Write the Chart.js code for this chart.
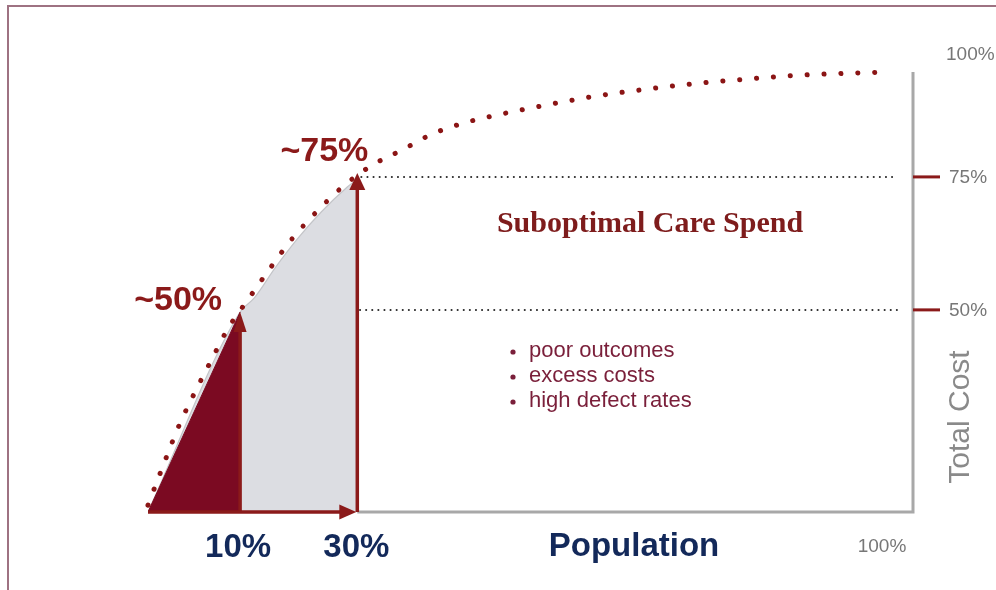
<!DOCTYPE html>
<html>
<head>
<meta charset="utf-8">
<script src="https://cdn.jsdelivr.net/npm/chart.js@4"></script>
<style>
  html, body { margin: 0; padding: 0; background: #ffffff; }
  #wrap { width: 996px; height: 590px; position: relative; }
  canvas { display: block; }
</style>
</head>
<body>
<div id="wrap"><canvas id="c" width="996" height="590"></canvas></div>
<script>
// ---- Data (population share on x, cumulative cost share on y; illustrative, not to scale) ----
const curveX = [0, 1.6, 4.1, 6.2, 8.3, 10.5, 13.2, 16.0, 18.8, 22.0, 25.4, 29.3, 33.4, 36.9, 41.2, 45.5, 49.9, 54.2, 58.6, 65.2, 71.9, 78.4, 84.9, 91.6, 96.2];
const curveY = [13.3, 19.3, 28.4, 34.7, 40.6, 46.6, 52.2, 57.9, 63.3, 68.4, 73.1, 77.2, 80.2, 82.9, 85.1, 86.6, 87.9, 89.1, 90.2, 91.5, 92.6, 93.4, 94.1, 94.5, 94.7];

const grayX = [0, 12.04, 13.87, 16.62, 19.5, 22.64, 26.05, 27.36];
const grayY = [12, 49.6, 52.2, 57.9, 63.3, 68.4, 73.1, 74.6];

const triX = [0, 12.04];
const triY = [12, 49.6];

const markerX = [12.04, 27.36];          // positions of the 10% / 30% population markers
const markerLabels = ['10%', '30%'];
const levelY = [50, 75];                  // cost levels reached
const levelLabels = ['~50%', '~75%'];
const axisTickLabels = ['50%', '75%'];
const axisEndLabel = '100%';
const xTitle = 'Population';
const yTitle = 'Total Cost';
const noteTitle = 'Suboptimal Care Spend';
const bullets = ['poor outcomes', 'excess costs', 'high defect rates'];

const X_MIN = 0, X_MAX = 100, Y_MIN = 12, Y_MAX = 95.1;
const REF_END = 97.9;

const toPts = (xs, ys) => xs.map((x, i) => ({ x: x, y: ys[i] }));

const SANS = '"Liberation Sans", Arial, Helvetica, sans-serif';
const SERIF = '"Liberation Serif", "Times New Roman", serif';
const RED = '#8b1a1a';

function arrowHead(ctx, x, y, dir, len, w) {
  ctx.beginPath();
  if (dir === 'up') {
    ctx.moveTo(x, y); ctx.lineTo(x - w / 2, y + len); ctx.lineTo(x + w / 2, y + len);
  } else {
    ctx.moveTo(x, y); ctx.lineTo(x - len, y - w / 2); ctx.lineTo(x - len, y + w / 2);
  }
  ctx.closePath();
  ctx.fill();
}

const decor = {
  id: 'decor',
  beforeDraw(chart) {
    const ctx = chart.ctx;
    ctx.save();
    ctx.fillStyle = '#ffffff';
    ctx.fillRect(0, 0, chart.width, chart.height);
    ctx.strokeStyle = '#9e7282';
    ctx.lineWidth = 2;
    ctx.beginPath();
    ctx.moveTo(8, chart.height);
    ctx.lineTo(8, 6);
    ctx.lineTo(chart.width, 6);
    ctx.stroke();
    ctx.restore();
  },
  beforeDatasetsDraw(chart) {
    const ctx = chart.ctx, xs = chart.scales.x, ys = chart.scales.y;
    const ca = chart.chartArea;
    ctx.save();
    // dotted reference lines
    ctx.strokeStyle = '#2a2a2a';
    ctx.lineWidth = 2;
    ctx.lineCap = 'round';
    ctx.setLineDash([0.1, 6]);
    for (let i = 0; i < levelY.length; i++) {
      const y = ys.getPixelForValue(levelY[i]);
      ctx.beginPath();
      ctx.moveTo(xs.getPixelForValue(markerX[i]) + 4, y);
      ctx.lineTo(xs.getPixelForValue(REF_END), y);
      ctx.stroke();
    }
    ctx.setLineDash([]);
    ctx.lineCap = 'butt';
    // gray axes
    ctx.strokeStyle = '#a8a8a8';
    ctx.lineWidth = 3;
    ctx.beginPath();
    ctx.moveTo(xs.getPixelForValue(markerX[1]), ca.bottom);
    ctx.lineTo(ca.right, ca.bottom);
    ctx.lineTo(ca.right, ca.top + 2);
    ctx.stroke();
    ctx.restore();
  },
  afterDatasetsDraw(chart) {
    const ctx = chart.ctx, xs = chart.scales.x, ys = chart.scales.y;
    const ca = chart.chartArea;
    ctx.save();
    ctx.strokeStyle = RED;
    ctx.fillStyle = RED;
    ctx.lineWidth = 3.5;
    // vertical marker arrows
    for (let i = 0; i < markerX.length; i++) {
      const x = xs.getPixelForValue(markerX[i]);
      const yTip = ys.getPixelForValue(levelY[i]) + (i === 0 ? 2 : -4);
      const len = i === 0 ? 20 : 17;
      const w = i === 0 ? 13 : 16;
      ctx.beginPath();
      ctx.moveTo(x, ca.bottom);
      ctx.lineTo(x, yTip + len - 1);
      ctx.stroke();
      arrowHead(ctx, x, yTip, 'up', len, w);
    }
    // horizontal baseline arrow
    const x0 = xs.getPixelForValue(0), x2 = xs.getPixelForValue(markerX[1]);
    ctx.beginPath();
    ctx.moveTo(x0, ca.bottom);
    ctx.lineTo(x2 - 16, ca.bottom);
    ctx.stroke();
    arrowHead(ctx, x2 - 1, ca.bottom, 'right', 17, 15);
    // right axis level ticks
    ctx.lineWidth = 3;
    for (let i = 0; i < levelY.length; i++) {
      const y = ys.getPixelForValue(levelY[i]);
      ctx.beginPath();
      ctx.moveTo(ca.right, y);
      ctx.lineTo(ca.right + 27, y);
      ctx.stroke();
    }
    ctx.restore();
  },
  afterDraw(chart) {
    const ctx = chart.ctx, xs = chart.scales.x, ys = chart.scales.y;
    const ca = chart.chartArea;
    ctx.save();
    ctx.textBaseline = 'middle';
    // level labels (~50%, ~75%)
    ctx.fillStyle = RED;
    ctx.font = 'bold 34px ' + SANS;
    ctx.textAlign = 'right';
    ctx.fillText(levelLabels[0], xs.getPixelForValue(markerX[0]) - 18, ys.getPixelForValue(levelY[0]) - 9);
    ctx.fillText(levelLabels[1], xs.getPixelForValue(markerX[1]) + 11, ys.getPixelForValue(levelY[1]) - 25);
    // x labels
    ctx.fillStyle = '#13295a';
    ctx.font = 'bold 33px ' + SANS;
    ctx.textAlign = 'center';
    ctx.fillText(markerLabels[0], xs.getPixelForValue(markerX[0]) - 2, ca.bottom + 36);
    ctx.fillText(markerLabels[1], xs.getPixelForValue(markerX[1]) - 1, ca.bottom + 36);
    ctx.fillText(xTitle, 634, ca.bottom + 35);
    // axis tick labels
    ctx.fillStyle = '#777777';
    ctx.font = '19px ' + SANS;
    ctx.textAlign = 'left';
    for (let i = 0; i < levelY.length; i++) {
      ctx.fillText(axisTickLabels[i], ca.right + 36, ys.getPixelForValue(levelY[i]) + 1);
    }
    ctx.fillText(axisEndLabel, ca.right + 33, ca.top - 15);
    ctx.textAlign = 'center';
    ctx.fillText(axisEndLabel, ca.right - 31, ca.bottom + 35);
    // y title (rotated)
    ctx.save();
    ctx.translate(ca.right + 48, 417);
    ctx.rotate(-Math.PI / 2);
    ctx.fillStyle = '#8a8a8a';
    ctx.font = '30px ' + SANS;
    ctx.textAlign = 'center';
    ctx.fillText(yTitle, 0, 0);
    ctx.restore();
    // note title
    ctx.fillStyle = '#7e1c1c';
    ctx.font = 'bold 30px ' + SERIF;
    ctx.textAlign = 'center';
    ctx.fillText(noteTitle, 650, 224);
    // bullets
    ctx.fillStyle = '#7a1f3a';
    ctx.font = '22px ' + SANS;
    ctx.textAlign = 'left';
    for (let i = 0; i < bullets.length; i++) {
      const y = 351 + i * 25;
      ctx.beginPath();
      ctx.arc(513, y + 1, 2.6, 0, Math.PI * 2);
      ctx.fill();
      ctx.fillText(bullets[i], 529, y);
    }
    ctx.restore();
  }
};

new Chart(document.getElementById('c'), {
  type: 'line',
  data: {
    datasets: [
      {
        label: 'Cumulative cost',
        data: toPts(curveX, curveY),
        borderColor: '#8b1515',
        borderWidth: 5,
        borderDash: [0.1, 16.8],
        borderCapStyle: 'round',
        pointRadius: 0,
        cubicInterpolationMode: 'monotone',
        fill: false,
        clip: false
      },
      {
        label: 'Top 10%',
        data: toPts(triX, triY),
        borderColor: '#7b0a22',
        borderWidth: 1,
        backgroundColor: '#7b0a22',
        pointRadius: 0,
        tension: 0,
        fill: 'start'
      },
      {
        label: 'Top 30%',
        data: toPts(grayX, grayY),
        borderColor: '#c3c4c8',
        borderWidth: 1.2,
        backgroundColor: '#dcdde2',
        pointRadius: 0,
        cubicInterpolationMode: 'monotone',
        fill: 'start'
      }
    ]
  },
  options: {
    responsive: false,
    animation: false,
    devicePixelRatio: 1,
    layout: { padding: { left: 148, right: 83, top: 70, bottom: 78 } },
    plugins: { legend: { display: false }, tooltip: { enabled: false } },
    scales: {
      x: { type: 'linear', min: X_MIN, max: X_MAX, display: false },
      y: { type: 'linear', min: Y_MIN, max: Y_MAX, display: false }
    }
  },
  plugins: [decor]
});
</script>
</body>
</html>
